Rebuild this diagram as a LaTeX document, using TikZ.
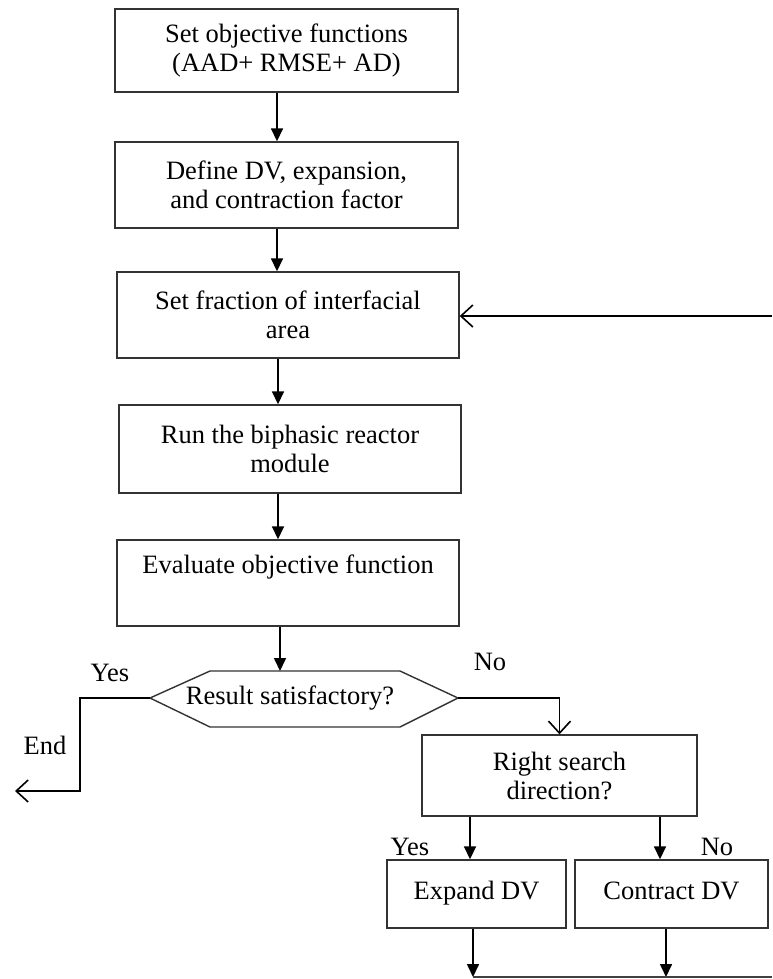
\documentclass[tikz,border=0pt]{standalone}
\usepackage{fontspec}
\setmainfont{Liberation Serif}
\usetikzlibrary{arrows.meta}
\begin{document}
\begin{tikzpicture}[x=1pt,y=-1pt,
  box/.style={draw=black!80, line width=1.4pt, align=center, inner sep=0pt,
    font=\fontsize{26.5}{29}\selectfont},
  lbl/.style={inner sep=0pt, font=\fontsize{26.5}{29}\selectfont},
  flow/.style={line width=1.6pt, -{Triangle[length=13pt,width=12pt]}},
  open/.style={line width=1.6pt, -{Straight Barb[length=12pt,width=22pt,line width=1.6pt]}},
  plain/.style={line width=1.6pt}]
  \useasboundingbox (0,0) rectangle (772,979);

  % main column
  \node[box, minimum width=343pt, minimum height=83pt] (b1) at (286.5,50.5)
    {Set objective functions\\(AAD+ RMSE+ AD)};
  \node[box, minimum width=343pt, minimum height=86pt] (b2) at (286.5,185)
    {Define DV, expansion,\\and contraction factor};
  \node[box, minimum width=342pt, minimum height=86pt] (b3) at (288,315)
    {Set fraction of interfacial\\area};
  \node[box, minimum width=342pt, minimum height=88pt] (b4) at (290,449)
    {Run the biphasic reactor\\module};
  \node[box, minimum width=342pt, minimum height=86pt] (b5) at (288,583)
    {Evaluate objective function\\\strut};

  % decision hexagon
  \coordinate (dL) at (150,698);
  \coordinate (dR) at (458,698);
  \draw[black!80, line width=1.4pt] (dL) -- (210,671) -- (400,671) -- (dR)
    -- (400,727) -- (210,727) -- cycle;
  \node[lbl] (dec) at (290,698) {Result satisfactory?};
  \coordinate (dT) at (280,671);

  % search branch
  \node[box, minimum width=275pt, minimum height=81pt] (b6) at (559.5,775.5)
    {Right search\\direction?};
  \node[box, minimum width=179pt, minimum height=68pt] (b7) at (476.5,894)
    {Expand DV\strut};
  \node[box, minimum width=193pt, minimum height=68pt] (b8) at (671.5,894)
    {Contract DV\strut};

  % free ends
  \coordinate (endpt) at (15,791);
  \coordinate (loopin) at (772,316);
  \coordinate (loopout) at (772,977);

  % connectors in the main column
  \draw[flow] ([xshift=-9.5pt]b1.south) -- ([xshift=-9.5pt]b1.south |- b2.north);
  \draw[flow] ([xshift=-9.5pt]b2.south) -- ([xshift=-9.5pt]b2.south |- b3.north);
  \draw[flow] ([xshift=-10pt]b3.south) -- ([xshift=-10pt]b3.south |- b4.north);
  \draw[flow] ([xshift=-12pt]b4.south) -- ([xshift=-12pt]b4.south |- b5.north);
  \draw[flow] ([xshift=-8pt]b5.south) -- (dT);
  \draw[open] (loopin) -- (b3.east |- loopin);

  % decision exits
  \draw[open] (dL) -- (80,698) -- (80,791) -- (endpt);
  \draw[open] (dR) -| (b6.north);
  \node[lbl] (yes1) at (110,673) {Yes};
  \node[lbl] (endl) at (45,745) {End};
  \node[lbl] (no1) at (490,662) {No};

  % search direction branches
  \draw[flow] ([xshift=-89.5pt]b6.south) -- ([xshift=-89.5pt]b6.south |- b7.north);
  \draw[flow] ([xshift=100.5pt]b6.south) -- ([xshift=100.5pt]b6.south |- b8.north);
  \node[lbl] (yes2) at (410,847) {Yes};
  \node[lbl] (no2) at (717,847) {No};

  % back to the loop
  \draw[flow] ([xshift=-3.5pt]b7.south) -- ([xshift=-3.5pt]b7.south |- loopout);
  \draw[flow] ([xshift=-5.5pt]b8.south) -- ([xshift=-5.5pt]b8.south |- loopout);
  \draw[plain, black!75] ([xshift=-3.5pt]b7.south |- loopout) -- (loopout);
\end{tikzpicture}
\end{document}
